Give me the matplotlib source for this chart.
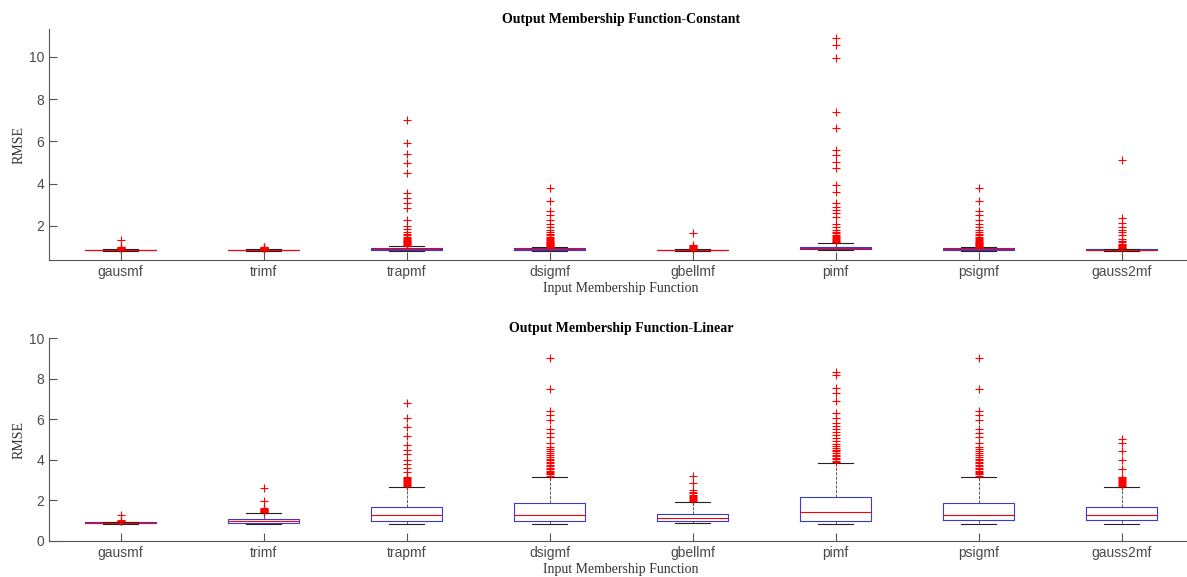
import matplotlib
matplotlib.use("Agg")
import matplotlib.pyplot as plt

# categories (input membership functions)
labels = ['gausmf', 'trimf', 'trapmf', 'dsigmf', 'gbellmf', 'pimf', 'psigmf', 'gauss2mf']

# ---- Output MF = Constant : box stats ----
c_q1 = [0.86, 0.85, 0.86, 0.86, 0.84, 0.90, 0.86, 0.85]
c_med = [0.87, 0.86, 0.90, 0.90, 0.86, 0.94, 0.90, 0.87]
c_q3 = [0.88, 0.87, 0.96, 0.95, 0.87, 1.00, 0.95, 0.89]
c_lo = [0.83, 0.83, 0.83, 0.83, 0.82, 0.85, 0.83, 0.83]
c_hi = [0.90, 0.89, 1.05, 1.00, 0.90, 1.18, 1.00, 0.93]
c_fliers = [
    [0.92, 0.94, 0.96, 0.98, 1.00, 1.02, 1.34],
    [0.90, 0.92, 0.94, 0.95, 0.97, 0.98, 1.00, 1.02],
    [1.07, 1.10, 1.13, 1.16, 1.19, 1.22, 1.25, 1.28, 1.31, 1.35, 1.40, 1.45, 1.50,
     1.55, 1.62, 1.70, 1.85, 2.00, 2.28, 2.84, 3.07, 3.30, 3.55, 4.52, 4.96, 5.40,
     5.91, 7.01],
    [1.02, 1.05, 1.08, 1.11, 1.14, 1.17, 1.20, 1.24, 1.28, 1.32, 1.37, 1.42, 1.48,
     1.55, 1.62, 1.70, 1.80, 1.96, 2.10, 2.28, 2.50, 2.72, 3.18, 3.78],
    [0.92, 0.95, 0.97, 1.00, 1.03, 1.06, 1.10, 1.68],
    [1.22, 1.26, 1.30, 1.34, 1.38, 1.42, 1.47, 1.52, 1.58, 1.65, 1.72, 1.81, 1.95,
     2.10, 2.44, 2.60, 2.75, 2.90, 3.08, 3.59, 3.94, 4.73, 5.04, 5.35, 5.59, 6.62,
     7.38, 9.93, 10.56, 10.87],
    [1.02, 1.05, 1.08, 1.11, 1.14, 1.17, 1.20, 1.24, 1.28, 1.32, 1.37, 1.42, 1.48,
     1.55, 1.62, 1.70, 1.80, 1.96, 2.10, 2.28, 2.50, 2.72, 3.18, 3.78],
    [0.95, 0.98, 1.01, 1.04, 1.08, 1.12, 1.16, 1.22, 1.30, 1.40, 1.55, 1.70, 1.81,
     1.95, 2.12, 2.36, 5.12],
]

# ---- Output MF = Linear ----
l_q1 = [0.88, 0.90, 1.00, 1.00, 1.00, 0.99, 1.03, 1.03]
l_med = [0.90, 0.98, 1.28, 1.28, 1.15, 1.41, 1.28, 1.28]
l_q3 = [0.92, 1.07, 1.69, 1.89, 1.33, 2.15, 1.89, 1.69]
l_lo = [0.86, 0.86, 0.84, 0.84, 0.89, 0.84, 0.86, 0.86]
l_hi = [0.95, 1.39, 2.68, 3.17, 1.94, 3.83, 3.17, 2.68]
l_fliers = [
    [0.97, 1.00, 1.03, 1.30],
    [1.42, 1.45, 1.48, 1.50, 1.52, 1.55, 1.57, 1.60, 1.63, 1.97, 2.60],
    [2.72, 2.76, 2.80, 2.85, 2.90, 2.95, 3.00, 3.05, 3.10, 3.17, 3.40, 3.60, 3.80,
     4.00, 4.30, 4.50, 4.73, 5.17, 5.63, 6.05, 6.78],
    [3.22, 3.28, 3.34, 3.40, 3.47, 3.54, 3.61, 3.68, 3.75, 3.82, 3.90, 3.98, 4.06,
     4.15, 4.25, 4.35, 4.45, 4.55, 4.65, 4.82, 5.10, 5.30, 5.50, 5.96, 6.20, 6.42,
     7.49, 9.00],
    [1.97, 2.02, 2.07, 2.12, 2.17, 2.22, 2.28, 2.34, 2.40, 2.50, 2.87, 3.20],
    [3.88, 3.95, 4.02, 4.10, 4.18, 4.26, 4.34, 4.42, 4.50, 4.60, 4.70, 4.80, 4.92,
     5.05, 5.20, 5.35, 5.50, 5.65, 5.80, 6.04, 6.29, 6.91, 7.27, 7.52, 8.20, 8.31],
    [3.22, 3.28, 3.34, 3.40, 3.47, 3.54, 3.61, 3.68, 3.75, 3.82, 3.90, 3.98, 4.06,
     4.15, 4.25, 4.35, 4.45, 4.55, 4.65, 4.82, 5.10, 5.30, 5.50, 5.96, 6.20, 6.42,
     7.49, 9.00],
    [2.72, 2.76, 2.80, 2.85, 2.90, 2.95, 3.00, 3.05, 3.10, 3.17, 3.53, 3.99, 4.45,
     4.81, 5.01],
]

grey = '#555555'
serif = ['Liberation Serif', 'DejaVu Serif']
sans = ['Liberation Sans', 'DejaVu Sans']


def draw(ax, q1, med, q3, lo, hi, fliers, title, ylim, yticks):
    stats = []
    for i in range(len(labels)):
        stats.append(dict(q1=q1[i], med=med[i], q3=q3[i], whislo=lo[i],
                          whishi=hi[i], fliers=fliers[i], label=labels[i]))
    ax.bxp(stats, positions=range(1, len(labels) + 1), widths=0.5,
           boxprops=dict(color='#3a3ad0', linewidth=0.8),
           medianprops=dict(color='red', linewidth=0.8),
           whiskerprops=dict(color='#444444', linewidth=0.6, linestyle='--'),
           capprops=dict(color='#222222', linewidth=0.8),
           flierprops=dict(marker='+', markeredgecolor='red', markersize=6,
                           markeredgewidth=0.8, linestyle='none'))
    ax.set_xlim(0.5, 8.5)
    ax.set_ylim(*ylim)
    ax.set_yticks(yticks)
    ax.spines['top'].set_visible(False)
    ax.spines['right'].set_visible(False)
    for s in ('left', 'bottom'):
        ax.spines[s].set_color(grey)
        ax.spines[s].set_linewidth(0.8)
    ax.tick_params(direction='in', length=6, width=0.8, color=grey,
                   labelcolor='#4a4a4a', labelsize=10)
    for t in ax.get_xticklabels() + ax.get_yticklabels():
        t.set_family(sans)
    ax.set_title(title, fontsize=10, fontweight='bold', family=serif, pad=4)
    ax.set_xlabel('Input Membership Function', fontsize=10, family=serif,
                  color='#333333', labelpad=2)
    ax.set_ylabel('RMSE', fontsize=10, family=serif, color='#333333', labelpad=2)


fig = plt.figure(figsize=(11.87, 5.77), dpi=100)
ax1 = fig.add_axes([0.0413, 0.5494, 0.9638, 0.4003])
ax2 = fig.add_axes([0.0413, 0.0624, 0.9638, 0.3518])

draw(ax1, c_q1, c_med, c_q3, c_lo, c_hi, c_fliers,
     'Output Membership Function-Constant', (0.39, 11.31), [2, 4, 6, 8, 10])
draw(ax2, l_q1, l_med, l_q3, l_lo, l_hi, l_fliers,
     'Output Membership Function-Linear', (0, 10), [0, 2, 4, 6, 8, 10])

fig.savefig('out.png', dpi=100)
